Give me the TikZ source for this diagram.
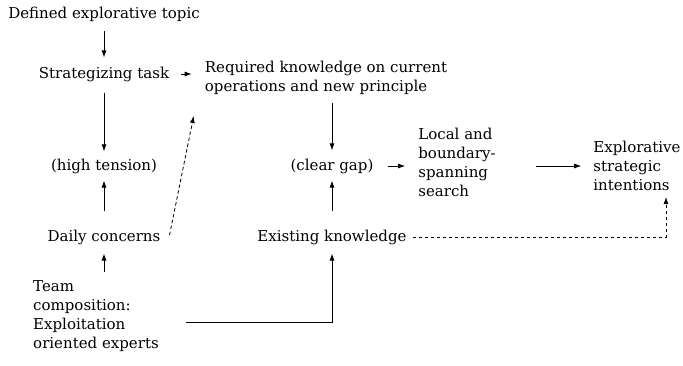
\documentclass[tikz,border=0pt]{standalone}
\usepackage{fontspec}
\setmainfont{DejaVu Serif}
\usepackage{tikz}
\usetikzlibrary{positioning,arrows.meta}

\begin{document}
\begin{tikzpicture}[
    font=\fontsize{15}{19}\selectfont,
    every node/.style={inner sep=0pt},
    link/.style={line width=0.8pt,-{Latex[length=7pt,width=5pt]}},
    weak/.style={link,dashed,dash pattern=on 3.5pt off 2.5pt}
  ]
        \useasboundingbox (0,0) rectangle (683pt,-365pt);

        \node at (104pt,-14pt) (T) {Defined explorative topic};
        \node [on grid, below=60pt of T] (S) {Strategizing task};
        \node [on grid, below right=4pt and 222pt of S, align=left] (R) {Required knowledge on current\\operations and new principle};
        \node [on grid, below=92pt of S] (H) {(high tension)};
        \node [on grid, below=71pt of H] (D) {Daily concerns};
        \node [on grid, below left=79pt and 8pt of D, align=left] (M) {Team\\composition:\\Exploitation\\oriented experts};
        \node [on grid, right=228pt of H] (G) {(clear gap)};
        \node [on grid, below=71pt of G] (E) {Existing knowledge};
        \node [on grid, above right=4pt and 125pt of G, align=left] (L) {Local and\\boundary-\\spanning\\search};
        \node [on grid, below right=4pt and 180pt of L, align=left] (I) {Explorative\\strategic\\intentions};

        \draw [link, shorten <=10pt, shorten >=9pt] (T.south) to (S.north);
        \draw [link] ([xshift=12pt]S.east) to ([xshift=-13pt]S.east -| R.west);
        \draw [link, shorten <=11pt, shorten >=7pt] (S.south) to (H.north);
        \draw [link, shorten <=18pt, shorten >=7pt] (D.north) to (H.south);
        \draw [link, shorten <=8pt, shorten >=9pt] (M.north -| D.north) to (D.south);
        \draw [weak] ([shift={(9pt,2pt)}]D.east) to ([shift={(-11pt,-21pt)}]R.south west);
        \draw [link, shorten <=8pt, shorten >=8pt] (G.north |- R.south) to (G.north);
        \draw [link, shorten <=18pt, shorten >=7pt] (E.north) to (G.south);
        \draw [link, shorten >=9pt] ([shift={(27pt,-6pt)}]M.east) -| (E.south);
        \draw [link] ([xshift=14pt]G.east) to ([xshift=-13pt]G.east -| L.west);
        \draw [link] ([xshift=40pt]L.east |- I.west) to ([xshift=-12pt]I.west);
        \draw [weak, shorten >=6pt] ([xshift=6pt]E.east) -| ([xshift=29pt]I.south);
\end{tikzpicture}
\end{document}
